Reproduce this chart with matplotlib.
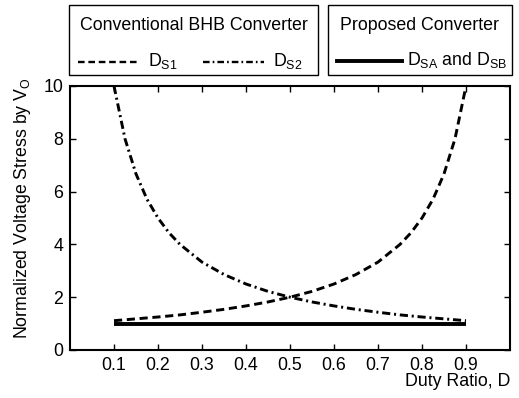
import matplotlib
matplotlib.use("Agg")
import matplotlib.pyplot as plt
from matplotlib.patches import Rectangle
from matplotlib.lines import Line2D

plt.rcParams['font.family'] = 'Liberation Sans'
plt.rcParams['mathtext.fontset'] = 'custom'
plt.rcParams['mathtext.rm'] = 'Liberation Sans'
plt.rcParams['mathtext.it'] = 'Liberation Sans:italic'

# values
duty = [0.1, 0.15, 0.2, 0.25, 0.3, 0.35, 0.4, 0.45, 0.5, 0.55, 0.6, 0.65,
        0.7, 0.75, 0.775, 0.8, 0.825, 0.85, 0.875, 0.9]
ds1 = [1.11, 1.18, 1.25, 1.33, 1.43, 1.54, 1.67, 1.82, 2.0, 2.22, 2.5, 2.86,
       3.33, 4.0, 4.44, 5.0, 5.71, 6.67, 8.0, 10.0]
duty2 = [0.1, 0.125, 0.15, 0.175, 0.2, 0.225, 0.25, 0.3, 0.35, 0.4, 0.45, 0.5,
         0.55, 0.6, 0.65, 0.7, 0.75, 0.8, 0.85, 0.9]
ds2 = [10.0, 8.0, 6.67, 5.71, 5.0, 4.44, 4.0, 3.33, 2.86, 2.5, 2.22, 2.0,
       1.82, 1.67, 1.54, 1.43, 1.33, 1.25, 1.18, 1.11]
duty_sab = [0.1, 0.9]
dsab = [1.0, 1.0]

xticks = [0.1, 0.2, 0.3, 0.4, 0.5, 0.6, 0.7, 0.8, 0.9]
yticks = [0, 2, 4, 6, 8, 10]

W, H = 519, 398
fig = plt.figure(figsize=(W / 100, H / 100), dpi=100)
FS = 12.8


def fx(x):
    return x / W


def fy(y):
    return 1 - y / H


ax = fig.add_axes([fx(70), fy(350), fx(510) - fx(70), fy(86) - fy(350)])

dash = (2.8, 1.6)
dashdot = (2.8, 1.3, 0.7, 1.3)
ax.plot(duty, ds1, color='black', lw=2.1, dashes=dash)
ax.plot(duty2, ds2, color='black', lw=2.1, dashes=dashdot)
ax.plot(duty_sab, dsab, color='black', lw=2.8, solid_capstyle='butt')

ax.set_xlim(0, 1.0)
ax.set_ylim(0, 10)
ax.set_xticks(xticks)
ax.set_xticklabels([str(t) for t in xticks])
ax.set_yticks(yticks)
ax.tick_params(direction='in', length=4, top=True, right=True,
               labelsize=FS, pad=5, width=1)
for s in ax.spines.values():
    s.set_linewidth(1.5)

fig.text(fx(23), fy(208), 'Normalized Voltage Stress by V$_\\mathrm{O}$',
         rotation=90, ha='center', va='center', fontsize=FS)
fig.text(fx(510), fy(381), 'Duty Ratio, D', ha='right', va='center', fontsize=FS)

# legend boxes
for x0, x1 in [(69, 318), (328, 512)]:
    fig.add_artist(Rectangle((fx(x0), fy(75)), fx(x1) - fx(x0), fy(5) - fy(75),
                             transform=fig.transFigure, fill=False,
                             edgecolor='black', lw=1.0))

fig.text(fx(194), fy(26), 'Conventional BHB Converter', ha='center', va='center', fontsize=FS)
fig.text(fx(420), fy(26), 'Proposed Converter', ha='center', va='center', fontsize=FS)

fig.add_artist(Line2D([fx(78), fx(138)], [fy(62), fy(62)], transform=fig.transFigure,
                      color='black', lw=1.7, dashes=(2.8, 1.6)))
fig.text(fx(148), fy(61), 'D$_{\\mathrm{S1}}$', ha='left', va='center', fontsize=FS)
fig.add_artist(Line2D([fx(203), fx(264)], [fy(62), fy(62)], transform=fig.transFigure,
                      color='black', lw=1.7, dashes=(2.8, 1.3, 0.7, 1.3)))
fig.text(fx(273), fy(61), 'D$_{\\mathrm{S2}}$', ha='left', va='center', fontsize=FS)
fig.add_artist(Line2D([fx(337), fx(402)], [fy(61), fy(61)], transform=fig.transFigure,
                      color='black', lw=2.8))
fig.text(fx(407), fy(60), 'D$_{\\mathrm{SA}}$ and D$_{\\mathrm{SB}}$', ha='left',
         va='center', fontsize=FS)

fig.savefig('out.png', dpi=100)
